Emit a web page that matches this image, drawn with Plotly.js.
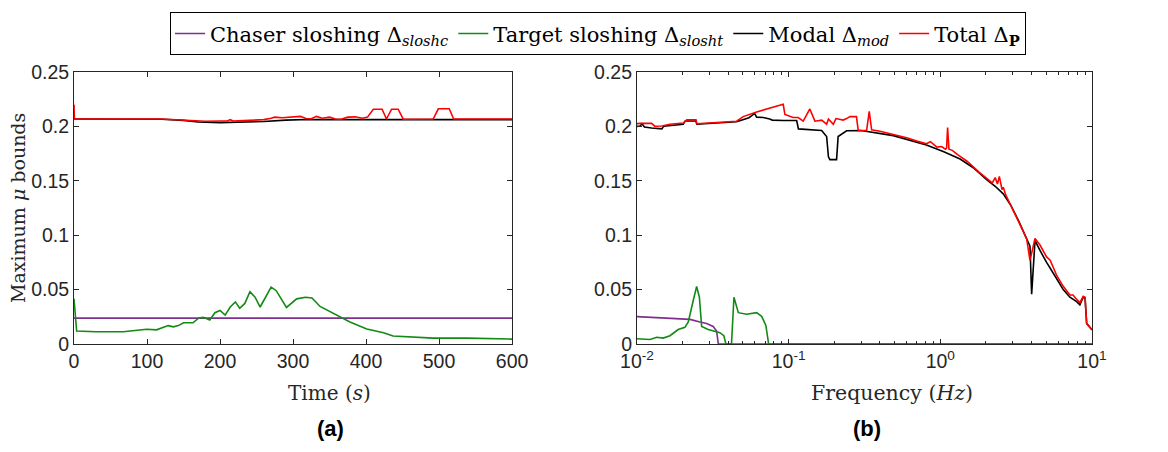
<!DOCTYPE html>
<html>
<head>
<meta charset="utf-8">
<script src="https://cdn.plot.ly/plotly-3.0.1.min.js"></script>
<style>html,body{margin:0;padding:0;background:#fff}#chart{width:1168px;height:452px}</style>
</head>
<body>
<div id="chart"></div>
<script>
// ---- Panel (a): time domain ----
const timeChaser = [0, 100, 200, 300, 400, 500, 600];
const chaserTime = [0.0238, 0.0238, 0.0238, 0.0238, 0.0238, 0.0238, 0.0238];

const timeTarget = [0, 3.6, 30, 67.5, 99.6, 113, 129, 136, 143, 150, 163, 171, 177, 186, 193, 200, 207, 214, 221, 227, 234, 241, 248, 255, 270, 277, 291, 305, 317, 326, 337, 355, 378, 401, 424, 437, 469, 492, 538, 600];
const targetTime = [0.0415, 0.0119, 0.0113, 0.0113, 0.0136, 0.0130, 0.0169, 0.0158, 0.0169, 0.0195, 0.0195, 0.0240, 0.0245, 0.0220, 0.0288, 0.0308, 0.0266, 0.0340, 0.0387, 0.0328, 0.0373, 0.0480, 0.0430, 0.0340, 0.0523, 0.0490, 0.0336, 0.0415, 0.0430, 0.0423, 0.0345, 0.0282, 0.0203, 0.0138, 0.0104, 0.0073, 0.0062, 0.0054, 0.0054, 0.0045];

const timeModal = [0, 120, 150, 170, 200, 230, 260, 290, 320, 400, 500, 600];
const modalTime = [0.2068, 0.2066, 0.2055, 0.2040, 0.2035, 0.2037, 0.2045, 0.2058, 0.2064, 0.2062, 0.2062, 0.2062];

const timeTotal = [0, 0.5, 120, 140, 160, 180, 200, 210, 214, 218, 240, 260, 270, 275, 285, 300, 310, 318, 325, 332, 340, 350, 358, 366, 375, 385, 395, 402, 410, 422, 428, 435, 444, 451, 492, 499, 514, 520, 600];
const totalTime = [0.2200, 0.2068, 0.2068, 0.2062, 0.2050, 0.2048, 0.2049, 0.2049, 0.2062, 0.2050, 0.2055, 0.2062, 0.2075, 0.2085, 0.2080, 0.2085, 0.2092, 0.2072, 0.2070, 0.2092, 0.2075, 0.2085, 0.2068, 0.2066, 0.2085, 0.2088, 0.2075, 0.2085, 0.2158, 0.2158, 0.2068, 0.2158, 0.2158, 0.2066, 0.2068, 0.2162, 0.2162, 0.2068, 0.2068];

// ---- Panel (b): frequency domain ----
const freqChaser = [0.01, 0.0174, 0.0224, 0.026, 0.0288, 0.0318, 0.0335, 0.0344, 0.06, 10];
const chaserFreq = [0.0252, 0.0237, 0.0226, 0.0203, 0.0189, 0.0161, 0.0119, 0, 0, 0];

const freqTarget = [0.01, 0.0122, 0.0135, 0.0149, 0.0165, 0.0178, 0.0187, 0.0207, 0.0218, 0.0235, 0.02475, 0.0258, 0.0267, 0.0295, 0.0352, 0.0374, 0.0386, 0.0420, 0.0436, 0.0466, 0.0528, 0.0615, 0.0664, 0.0708, 0.0738, 10];
const targetFreq = [0.0048, 0.0042, 0.0062, 0.0054, 0.0076, 0.0113, 0.0133, 0.0153, 0.0203, 0.0400, 0.0528, 0.0430, 0.0161, 0.0133, 0.0104, 0.0076, 0, 0, 0.0430, 0.0288, 0.0274, 0.0288, 0.0254, 0.0170, 0, 0];

const freqModal = [0.01, 0.0105, 0.0108, 0.0112, 0.0125, 0.0146, 0.015, 0.0202, 0.0208, 0.0245, 0.0248, 0.0454, 0.0548, 0.0597, 0.0615, 0.068, 0.075, 0.078, 0.0921, 0.113, 0.116, 0.165, 0.178, 0.183, 0.187, 0.207, 0.212, 0.241, 0.3, 0.49, 0.81, 1.045, 1.35, 1.65, 2.02, 2.3, 2.6, 2.9, 3.26, 3.52, 3.71, 3.9, 4.0, 4.21, 4.54, 5.02, 5.85, 6.46, 7.15, 7.92, 8.32, 8.75, 9.0, 9.22, 9.94, 10];
const modalFreq = [0.2000, 0.2003, 0.2025, 0.1995, 0.1985, 0.1977, 0.2002, 0.2020, 0.2050, 0.2050, 0.2020, 0.2042, 0.2080, 0.2119, 0.2085, 0.2082, 0.2068, 0.2058, 0.2054, 0.2054, 0.1977, 0.1963, 0.1907, 0.1720, 0.1695, 0.1695, 0.1907, 0.1960, 0.1962, 0.1915, 0.1830, 0.1770, 0.1700, 0.1620, 0.1510, 0.1450, 0.1380, 0.1280, 0.1140, 0.1036, 0.0966, 0.0900, 0.0458, 0.0950, 0.0860, 0.0750, 0.0600, 0.0500, 0.0430, 0.0390, 0.0360, 0.0430, 0.0420, 0.0190, 0.0133, 0.0130];

const freqTotal = [0.01, 0.0107, 0.0125, 0.0131, 0.0146, 0.0165, 0.0202, 0.0213, 0.0245, 0.0248, 0.0454, 0.0502, 0.0615, 0.0921, 0.0945, 0.102, 0.107, 0.1156, 0.1248, 0.138, 0.149, 0.165, 0.178, 0.183, 0.197, 0.205, 0.229, 0.241, 0.2536, 0.28, 0.2877, 0.3267, 0.34, 0.3526, 0.4, 0.49, 0.6, 0.7, 0.81, 0.86, 0.95, 1.02, 1.08, 1.1, 1.117, 1.14, 1.2, 1.3, 1.5, 1.8, 2.02, 2.2, 2.3, 2.38, 2.45, 2.55, 2.6, 2.7, 2.9, 3.26, 3.52, 3.71, 3.9, 4.21, 4.54, 5.02, 5.3, 5.85, 6.14, 6.46, 7.15, 7.5, 7.92, 8.32, 8.75, 9.0, 9.22, 9.94, 10];
const totalFreq = [0.2025, 0.2028, 0.2028, 0.2002, 0.2003, 0.2020, 0.2031, 0.2060, 0.2060, 0.2025, 0.2048, 0.2090, 0.2133, 0.2203, 0.2110, 0.2096, 0.2082, 0.2082, 0.2048, 0.2160, 0.2048, 0.2058, 0.2020, 0.2068, 0.2020, 0.2072, 0.2058, 0.2072, 0.2090, 0.2090, 0.1963, 0.1963, 0.2138, 0.1969, 0.1955, 0.1925, 0.1895, 0.1865, 0.1840, 0.1860, 0.1810, 0.1815, 0.1790, 0.1800, 0.1990, 0.1790, 0.1780, 0.1740, 0.1680, 0.1580, 0.1520, 0.1480, 0.1530, 0.1470, 0.1540, 0.1420, 0.1440, 0.1370, 0.1280, 0.1140, 0.1036, 0.0966, 0.0768, 0.0970, 0.0910, 0.0800, 0.0770, 0.0630, 0.0585, 0.0530, 0.0450, 0.0450, 0.0410, 0.0380, 0.0438, 0.0430, 0.0190, 0.0133, 0.0130];

const seriesNames = ['Chaser sloshing Δ<sub><i>sloshc</i></sub>', 'Target sloshing Δ<sub><i>slosht</i></sub>', 'Modal Δ<sub><i>mod</i></sub>', 'Total Δ<sub><b>P</b></sub>'];
const yTickVals = [0, 0.05, 0.1, 0.15, 0.2, 0.25];
const yTickText = ['0', '0.05', '0.1', '0.15', '0.2', '0.25'];
const xTimeTicks = [0, 100, 200, 300, 400, 500, 600];
const xFreqTicks = [0.01, 0.1, 1, 10];
const xFreqTickText = ['10<sup>-2</sup>', '10<sup>-1</sup>', '10<sup>0</sup>', '10<sup>1</sup>'];
const xFreqMinor = [0.02,0.03,0.04,0.05,0.06,0.07,0.08,0.09,0.2,0.3,0.4,0.5,0.6,0.7,0.8,0.9,2,3,4,5,6,7,8,9];

const colors = ['#7E2F8E', '#138A13', '#000000', '#FF0000'];

function tr(x, y, i, xa, ya, show) {
  return {x: x, y: y, type: 'scatter', mode: 'lines', name: seriesNames[i],
    legendgroup: 'g' + i, showlegend: show, xaxis: xa, yaxis: ya,
    line: {color: colors[i], width: 1.6}};
}

const data = [
  tr(timeChaser, chaserTime, 0, 'x', 'y', true),
  tr(timeTarget, targetTime, 1, 'x', 'y', true),
  tr(timeModal, modalTime, 2, 'x', 'y', true),
  tr(timeTotal, totalTime, 3, 'x', 'y', true),
  tr(freqChaser, chaserFreq, 0, 'x2', 'y2', false),
  tr(freqTarget, targetFreq, 1, 'x2', 'y2', false),
  tr(freqModal, modalFreq, 2, 'x2', 'y2', false),
  tr(freqTotal, totalFreq, 3, 'x2', 'y2', false)
];

const axCol = '#262626';
const sans = 'Liberation Sans, Arial, sans-serif';
const serif = 'DejaVu Serif, serif';
const tickFont = {family: sans, size: 19.5, color: axCol};
const common = {showline: true, mirror: 'ticks', linecolor: axCol, linewidth: 1,
  ticks: 'inside', ticklen: 5, tickcolor: axCol, showgrid: false, zeroline: false,
  tickfont: tickFont};

const W = 1018, H = 294;
function px(x) { return (x - 74) / W; }
function py(y) { return (344 - y) / H; }

const layout = {
  width: 1168, height: 452,
  paper_bgcolor: '#fff', plot_bgcolor: '#fff',
  margin: {l: 74, r: 76, t: 50, b: 108},
  showlegend: true,
  legend: {orientation: 'h', x: px(598), xanchor: 'center', y: py(32), yanchor: 'bottom',
    bordercolor: '#000', borderwidth: 1, font: {family: serif, size: 21, color: '#000'},
    itemwidth: 30, tracegroupgap: 0},
  xaxis: Object.assign({}, common, {domain: [0, 0.4303], range: [0, 600], tickvals: xTimeTicks, anchor: 'y'}),
  yaxis: Object.assign({}, common, {domain: [0, 1], range: [0, 0.25], tickvals: yTickVals, ticktext: yTickText, anchor: 'x'}),
  xaxis2: Object.assign({}, common, {domain: [0.553, 1], type: 'log', range: [-2, 1],
    tickmode: 'array', tickvals: xFreqTicks, ticktext: xFreqTickText, anchor: 'y2',
    minor: {tickmode: 'array', tickvals: xFreqMinor, ticks: 'inside', ticklen: 3, tickcolor: axCol}}),
  yaxis2: Object.assign({}, common, {domain: [0, 1], range: [0, 0.25], tickvals: yTickVals, ticktext: yTickText, anchor: 'x2'}),
  annotations: [
    {text: 'Time (<i>s</i>)', xref: 'paper', yref: 'paper', x: px(329), y: py(397), xanchor: 'center', yanchor: 'middle', showarrow: false, font: {family: serif, size: 20, color: '#262626'}},
    {text: 'Frequency (<i>Hz</i>)', xref: 'paper', yref: 'paper', x: px(892), y: py(397), xanchor: 'center', yanchor: 'middle', showarrow: false, font: {family: serif, size: 20.5, color: '#262626'}},
    {text: '<b>(a)</b>', xref: 'paper', yref: 'paper', x: px(330), y: py(435), xanchor: 'center', yanchor: 'middle', showarrow: false, font: {family: sans, size: 22, color: '#000'}},
    {text: '<b>(b)</b>', xref: 'paper', yref: 'paper', x: px(867), y: py(435), xanchor: 'center', yanchor: 'middle', showarrow: false, font: {family: sans, size: 22, color: '#000'}},
    {text: 'Maximum <i>μ</i> bounds', xref: 'paper', yref: 'paper', x: px(18), y: py(197), xanchor: 'center', yanchor: 'middle', textangle: -90, showarrow: false, font: {family: serif, size: 19, color: '#262626'}}
  ]
};

Plotly.newPlot('chart', data, layout, {staticPlot: true, displayModeBar: false});
</script>
</body>
</html>
